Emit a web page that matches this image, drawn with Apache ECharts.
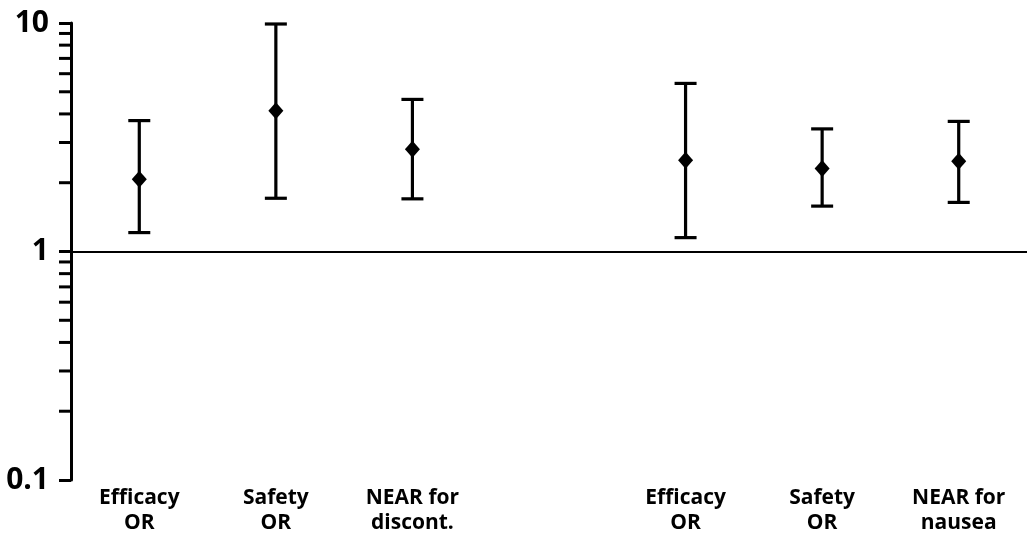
<!DOCTYPE html>
<html>
<head>
<meta charset="utf-8">
<script src="https://cdn.jsdelivr.net/npm/echarts@6/dist/echarts.min.js"></script>
<style>
html,body{margin:0;padding:0;background:#fff;}
#chart{width:1027px;height:541px;}
</style>
</head>
<body>
<div id="chart"></div>
<script>
const categories = ['Efficacy\nOR', 'Safety\nOR', 'NEAR for\ndiscont.', '', 'Efficacy\nOR', 'Safety\nOR', 'NEAR for\nnausea'];
const estimate = [2.07, 4.13, 2.80, null, 2.51, 2.31, 2.48];
const lower    = [1.21, 1.71, 1.70, null, 1.15, 1.58, 1.64];
const upper    = [3.74, 9.9, 4.63, null, 5.44, 3.44, 3.71];
const yTickLabels = ['0.1', '1', '10'];
const minorTickValues = [0.2, 0.3, 0.4, 0.5, 0.6, 0.7, 0.8, 0.9, 2, 3, 4, 5, 6, 7, 8, 9];

const errData = [];
categories.forEach((c, i) => {
  if (lower[i] != null && upper[i] != null) errData.push([i, lower[i], upper[i]]);
});

const chart = echarts.init(document.getElementById('chart'));
chart.setOption({
  animation: false,
  backgroundColor: '#fff',
  grid: { left: 71, right: 0, top: 23, bottom: 61, containLabel: false },
  xAxis: {
    type: 'category',
    data: categories,
    boundaryGap: true,
    axisLine: { show: false },
    axisTick: { show: false },
    splitLine: { show: false },
    axisLabel: {
      interval: 0,
      margin: 6,
      color: '#000',
      fontFamily: 'Open Sans',
      fontWeight: 'bold',
      fontSize: 21,
      lineHeight: 25
    }
  },
  yAxis: {
    type: 'log',
    logBase: 10,
    min: 0.1,
    max: 10,
    axisLine: { show: true, lineStyle: { color: '#000', width: 3 } },
    axisTick: { show: true, length: 12, lineStyle: { color: '#000', width: 3 } },
    splitLine: { show: false },
    axisLabel: {
      margin: 22,
      color: '#000',
      fontFamily: 'Open Sans',
      fontWeight: 'bold',
      fontSize: 30,
      formatter: function (v) {
        const s = String(Number(v.toPrecision(6)));
        return yTickLabels.indexOf(s) >= 0 ? s : '';
      }
    }
  },
  series: [
    {
      type: 'custom',
      silent: true,
      clip: false,
      data: minorTickValues.map(v => [0, v]),
      renderItem: function (params, api) {
        const y = api.coord([0, api.value(1)])[1];
        const x0 = params.coordSys.x;
        return {
          type: 'line',
          shape: { x1: x0 - 12, y1: y, x2: x0, y2: y },
          style: { stroke: '#000', lineWidth: 3 }
        };
      }
    },
    {
      type: 'custom',
      silent: true,
      data: errData,
      renderItem: function (params, api) {
        const i = api.value(0);
        const lo = api.coord([i, api.value(1)]);
        const hi = api.coord([i, api.value(2)]);
        const hw = 11;
        const st = { stroke: '#000', lineWidth: 3.2 };
        return {
          type: 'group',
          children: [
            { type: 'line', shape: { x1: lo[0], y1: lo[1], x2: hi[0], y2: hi[1] }, style: st },
            { type: 'line', shape: { x1: hi[0] - hw, y1: hi[1], x2: hi[0] + hw, y2: hi[1] }, style: st },
            { type: 'line', shape: { x1: lo[0] - hw, y1: lo[1], x2: lo[0] + hw, y2: lo[1] }, style: st }
          ]
        };
      }
    },
    {
      type: 'scatter',
      silent: true,
      data: estimate,
      symbol: 'diamond',
      symbolSize: [15, 17],
      itemStyle: { color: '#000', opacity: 1 },
      markLine: {
        silent: true,
        symbol: 'none',
        label: { show: false },
        lineStyle: { color: '#000', width: 2, type: 'solid' },
        data: [{ yAxis: 1 }]
      }
    }
  ]
});
</script>
</body>
</html>
